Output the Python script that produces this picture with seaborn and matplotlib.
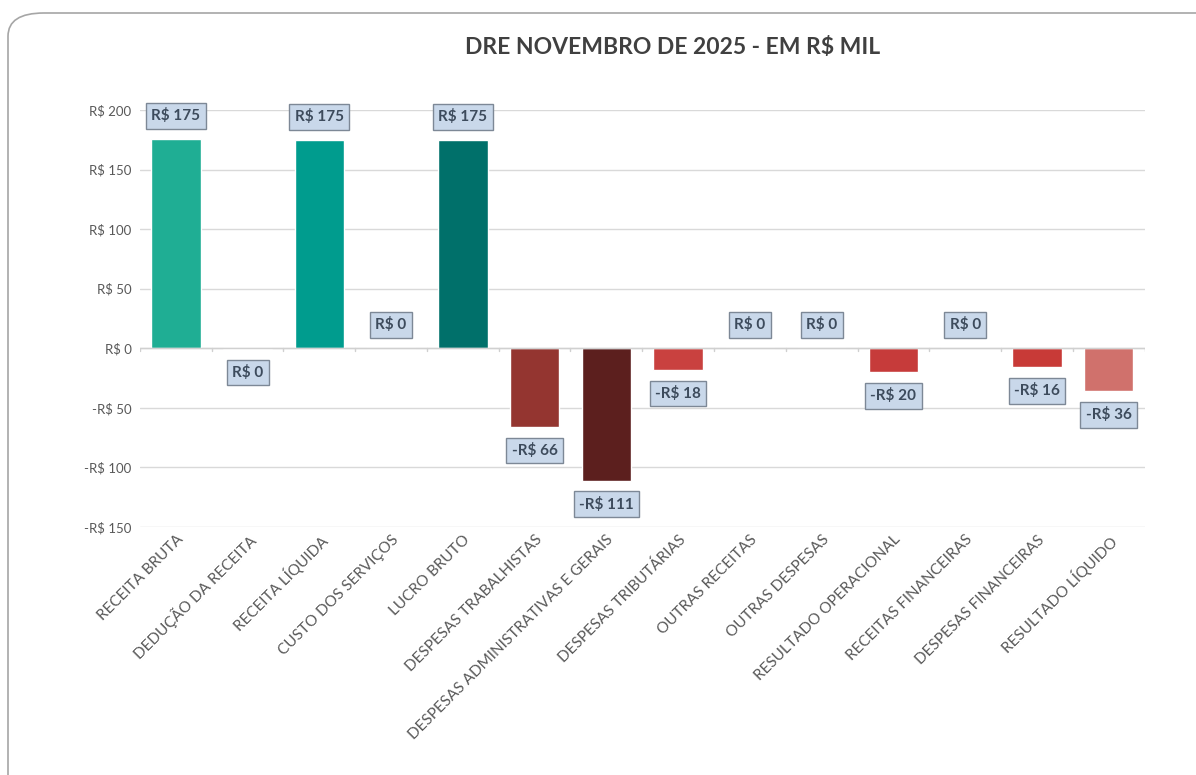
import matplotlib
matplotlib.use("Agg")
import matplotlib.pyplot as plt
import seaborn as sns
import pandas as pd
from matplotlib.patches import FancyBboxPatch

# data (R$ mil)
categories = [
    "RECEITA BRUTA", "DEDUÇÃO DA RECEITA", "RECEITA LÍQUIDA", "CUSTO DOS SERVIÇOS",
    "LUCRO BRUTO", "DESPESAS TRABALHISTAS", "DESPESAS ADMINISTRATIVAS E GERAIS",
    "DESPESAS TRIBUTÁRIAS", "OUTRAS RECEITAS", "OUTRAS DESPESAS",
    "RESULTADO OPERACIONAL", "RECEITAS FINANCEIRAS", "DESPESAS FINANCEIRAS",
    "RESULTADO LÍQUIDO",
]
values = [175.3, -0.4, 174.6, 0.0, 174.6, -66, -111, -18, 0.0, 0.0, -20, 0.0, -16, -36]
bar_colors = [
    "#1FAE94", "#C0504D", "#009C8E", "#009C8E", "#00706A", "#943530", "#5C1F1E",
    "#C9413F", "#C9413F", "#C9413F", "#C63B3A", "#C63B3A", "#C83A37", "#D0716C",
]
yticks = [-150, -100, -50, 0, 50, 100, 150, 200]


def brl(v):
    v = round(v)
    return f"-R$ {abs(v)}" if v < 0 else f"R$ {v}"


df = pd.DataFrame({"conta": categories, "valor": values})

sns.set_theme(style="white")
plt.rcParams["font.family"] = ["Lato", "DejaVu Sans"]

fig = plt.figure(figsize=(11.96, 7.75), dpi=100)
ax = fig.add_axes([0.117, 0.32, 0.84, 0.538])

sns.barplot(data=df, x="conta", y="valor", hue="conta",
            palette=dict(zip(categories, bar_colors)), legend=False,
            width=0.69, saturation=1, ax=ax)

ax.set_ylim(-150, 200)
ax.set_xlim(-0.5, len(categories) - 0.5)
ax.set_yticks(yticks)
ax.set_yticklabels([brl(t) for t in yticks], fontsize=9.5, color="#595959")
ax.yaxis.grid(True, color="#D9D9D9", linewidth=1)
ax.set_axisbelow(True)
ax.axhline(0, color="#D0D0D0", linewidth=1, zorder=1)
for s in ax.spines.values():
    s.set_visible(False)
ax.tick_params(axis="y", length=0, pad=6)
ax.tick_params(axis="x", length=0, pad=4)
ax.set_xticks(range(len(categories)))
ax.set_xticklabels(categories, rotation=45, ha="right", rotation_mode="anchor",
                   fontsize=11, color="#595959")
ax.set_xlabel("")
ax.set_ylabel("")

# small tick marks along the zero line between categories
for i in range(len(categories) + 1):
    ax.plot([i - 0.5, i - 0.5], [0, -2.5], color="#D0D0D0", linewidth=1, zorder=1)

# data labels in boxes
for i, v in enumerate(values):
    off = -17 if v < 0 else 17
    ax.annotate(brl(v), xy=(i, v), xytext=(0, off), textcoords="offset points",
                ha="center", va="center", fontsize=11, fontweight="bold", color="#3D4B5C",
                bbox=dict(boxstyle="square,pad=0.35", facecolor="#C9D8EA",
                          edgecolor="#7D8896", linewidth=1), zorder=5)

fig.text(0.562, 0.939, "DRE NOVEMBRO DE 2025 - EM R$ MIL", ha="center", va="center",
         fontsize=16.5, fontweight="bold", color="#404040")

# rounded chart border
border = FancyBboxPatch((8 / 1196, -0.05), 1.05, 0.05 + (775 - 13) / 775,
                        boxstyle="round,pad=0,rounding_size=0.03",
                        transform=fig.transFigure, facecolor="none",
                        edgecolor="#A6A6A6", linewidth=1.2, clip_on=False)
fig.patches.append(border)

fig.savefig("out.png", dpi=100)
